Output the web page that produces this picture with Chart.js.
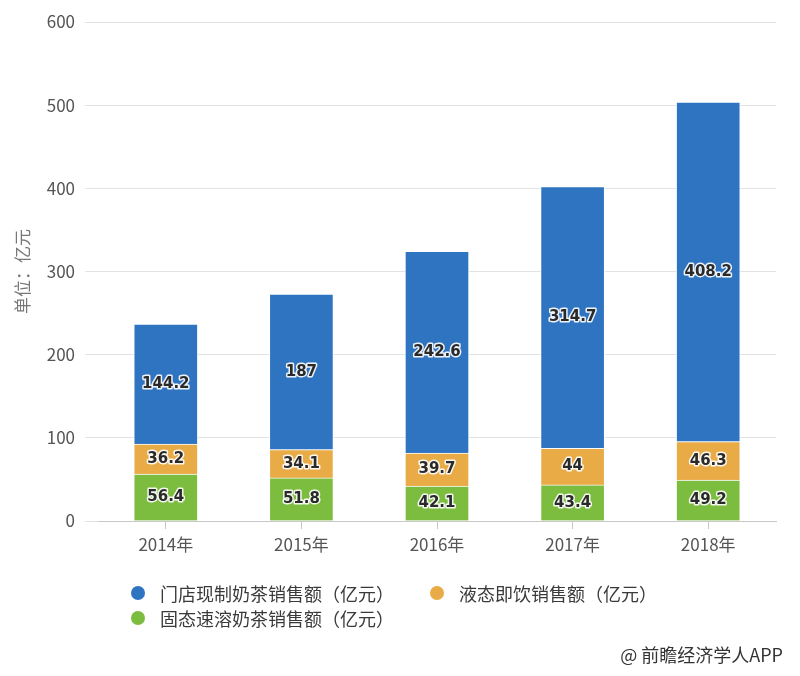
<!DOCTYPE html>
<html lang="zh-CN">
<head>
  <meta charset="utf-8">
  <title>奶茶销售额</title>
  <script src="https://cdn.jsdelivr.net/npm/chart.js@4/dist/chart.umd.min.js"></script>
  <style>
    body { margin: 0; background: #fff; }
    .wrap { position: relative; width: 800px; height: 676px; }
    #chart-0 { position: absolute; left: 0; top: 0; }
    #legend {
      position: absolute; left: 131px; top: 580px; width: 620px;
      display: flex; flex-wrap: wrap;
      font-family: "Noto Sans CJK SC", sans-serif; font-size: 18px; color: #3a3a3a;
    }
    #legend .item { display: flex; align-items: center; height: 25px; margin-right: 36px; }
    #legend .dot { width: 14px; height: 14px; border-radius: 50%; margin-right: 15px; }
    .source {
      position: absolute; right: 17px; top: 641px;
      font-family: "Noto Sans CJK SC", sans-serif; font-size: 18px; color: #333;
    }
  </style>
</head>
<body>
  <div class="wrap">
    <canvas id="chart-0" width="800" height="676"></canvas>
    <div id="legend"></div>
    <div class="source">@ 前瞻经济学人APP</div>
  </div>

  <script>
    // values in 亿元
    let years = ['2014年', '2015年', '2016年', '2017年', '2018年'];
    let solidTea = [56.4, 51.8, 42.1, 43.4, 49.2];      // 固态速溶奶茶
    let liquidTea = [36.2, 34.1, 39.7, 44, 46.3];       // 液态即饮
    let storeTea = [144.2, 187, 242.6, 314.7, 408.2];   // 门店现制奶茶
    let yTicks = [0, 100, 200, 300, 400, 500, 600];

    let colors = {
      blue: '#2f74c1',
      orange: '#e9ab46',
      green: '#7cbc3e'
    };

    // stacked bottom to top
    let datasets = [
      { label: '固态速溶奶茶销售额（亿元）', data: solidTea, backgroundColor: colors.green },
      { label: '液态即饮销售额（亿元）', data: liquidTea, backgroundColor: colors.orange },
      { label: '门店现制奶茶销售额（亿元）', data: storeTea, backgroundColor: colors.blue }
    ];
    datasets.forEach(function(ds) {
      ds.borderColor = 'rgba(255,255,255,0.85)';
      ds.borderWidth = 1;
      ds.barThickness = 64;
    });

    let valueLabels = {
      id: 'valueLabels',
      afterDatasetsDraw(chart) {
        let ctx = chart.ctx;
        ctx.save();
        ctx.font = 'bold 15px "DejaVu Sans"';
        ctx.textAlign = 'center';
        ctx.textBaseline = 'middle';
        ctx.lineJoin = 'round';
        chart.data.datasets.forEach(function(ds, i) {
          chart.getDatasetMeta(i).data.forEach(function(bar, j) {
            let y = (bar.y + bar.base) / 2;
            let txt = String(ds.data[j]);
            ctx.lineWidth = 3;
            ctx.strokeStyle = 'rgba(255,255,255,0.9)';
            ctx.strokeText(txt, bar.x, y);
            ctx.fillStyle = '#2a2a2a';
            ctx.fillText(txt, bar.x, y);
          });
        });
        ctx.restore();
      }
    };

    let tickFont = { family: '"Noto Sans CJK SC", sans-serif', size: 17 };

    let chart = new Chart('chart-0', {
      type: 'bar',
      data: { labels: years, datasets: datasets },
      plugins: [valueLabels],
      options: {
        responsive: false,
        animation: false,
        layout: { padding: { left: 0, right: 24, top: 22, bottom: 115 } },
        plugins: {
          legend: { display: false },
          tooltip: { enabled: false }
        },
        scales: {
          x: {
            stacked: true,
            afterFit: function(scale) { scale.height = 40; },
            grid: { offset: false, drawOnChartArea: false, tickLength: 8, color: '#c8c8c8' },
            border: { display: true, color: '#c8c8c8' },
            ticks: { font: tickFont, color: '#555', padding: 5 }
          },
          y: {
            stacked: true,
            min: 0,
            max: 600,
            afterFit: function(scale) { scale.width = 98; },
            afterBuildTicks: function(scale) {
              scale.ticks = yTicks.map(function(v) { return { value: v }; });
            },
            grid: { color: '#e2e2e2', tickLength: 13 },
            border: { display: false },
            ticks: { font: tickFont, color: '#555', padding: 10 },
            title: {
              display: true,
              text: '单位：亿元',
              font: tickFont,
              color: '#777',
              padding: { top: 12, bottom: 0 }
            }
          }
        }
      }
    });

    // html legend, top series first
    let legendEl = document.getElementById('legend');
    [2, 1, 0].forEach(function(i) {
      let ds = chart.data.datasets[i];
      let item = document.createElement('div');
      item.className = 'item';
      item.innerHTML = '<span class="dot" style="background:' + ds.backgroundColor + '"></span><span>' + ds.label + '</span>';
      legendEl.appendChild(item);
    });
  </script>
</body>
</html>
